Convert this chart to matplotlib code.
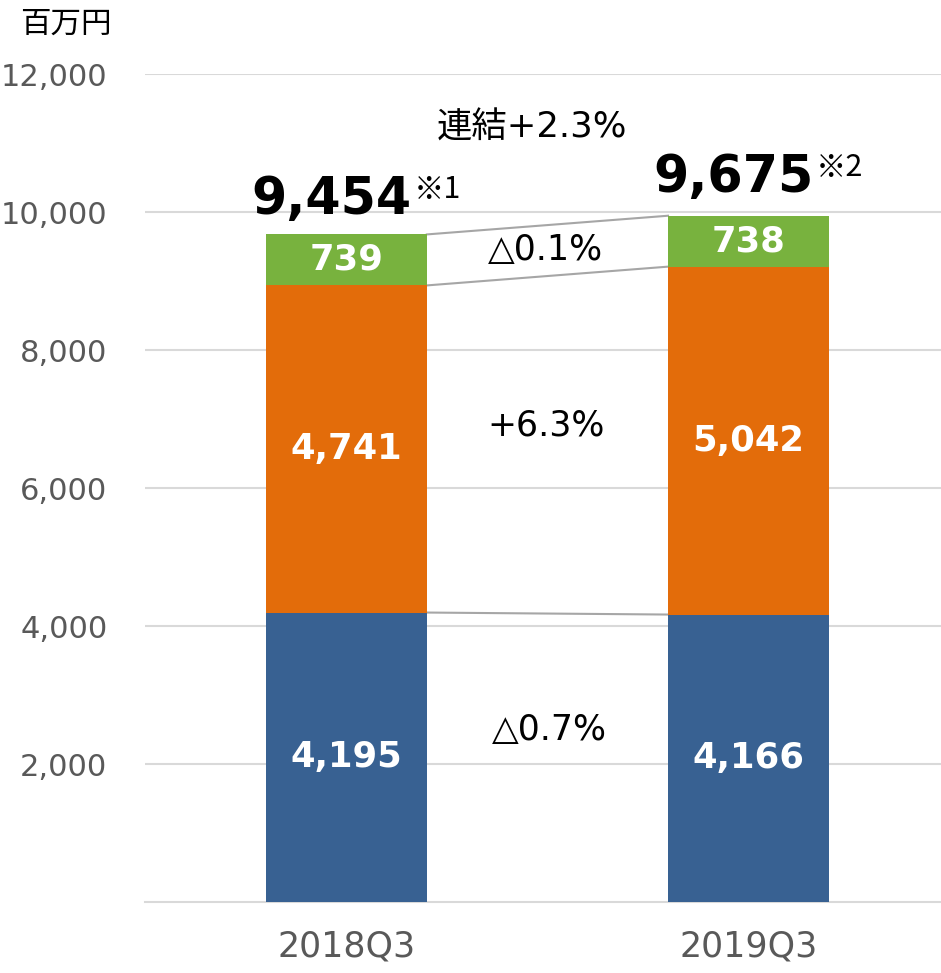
import matplotlib
matplotlib.use("Agg")
import matplotlib.pyplot as plt
import numpy as np

plt.rcParams['font.family'] = ['DejaVu Sans', 'Noto Sans CJK JP']

categories = ['2018Q3', '2019Q3']
seg_blue = [4195, 4166]
seg_orange = [4741, 5042]
seg_green = [739, 738]
totals = ['9,454', '9,675']
notes = ['※1', '※2']
changes = ['△0.7%', '+6.3%', '△0.1%']
overall = '連結+2.3%'

c_blue = '#386192'
c_orange = '#E36C0A'
c_green = '#78B23E'

fig = plt.figure(figsize=(9.41, 9.73), dpi=100)
ax = fig.add_axes([145 / 941, 71 / 973, 796 / 941, 828 / 973])

x = np.arange(len(categories))
w = 0.4
b1 = np.array(seg_blue)
b2 = b1 + np.array(seg_orange)
b3 = b2 + np.array(seg_green)

ax.bar(x, seg_blue, w, color=c_blue, zorder=3)
ax.bar(x, seg_orange, w, bottom=b1, color=c_orange, zorder=3)
ax.bar(x, seg_green, w, bottom=b2, color=c_green, zorder=3)

for i in range(len(x)):
    ax.text(x[i], seg_blue[i] / 2, f'{seg_blue[i]:,}', ha='center', va='center',
            color='white', fontsize=25.5, fontweight='bold', zorder=4)
    ax.text(x[i], b1[i] + seg_orange[i] / 2, f'{seg_orange[i]:,}', ha='center', va='center',
            color='white', fontsize=25.5, fontweight='bold', zorder=4)
    ax.text(x[i], b2[i] + seg_green[i] / 2, f'{seg_green[i]:,}', ha='center', va='center',
            color='white', fontsize=25.5, fontweight='bold', zorder=4)

# connectors between bars
for tops in (b1, b2, b3):
    ax.plot([x[0] + w / 2, x[1] - w / 2], [tops[0], tops[1]], color='#a6a6a6', lw=1.5, zorder=2)

# totals
tot_y = [9971, 10290]
for i in range(len(x)):
    ax.text(x[i] + 0.163, tot_y[i], totals[i], ha='right', va='baseline',
            fontsize=36.5, fontweight='bold', color='black')
    ax.text(x[i] + 0.168, tot_y[i] + 230, notes[i], ha='left', va='baseline',
            fontsize=22, color='black', family=['Noto Sans CJK JP', 'DejaVu Sans'])

ax.text(0.505, 2493, changes[0], ha='center', va='center', fontsize=25)
ax.text(0.496, 6913, changes[1], ha='center', va='center', fontsize=25)
ax.text(0.494, 9449, changes[2], ha='center', va='center', fontsize=25)
ax.text(0.461, 11217, overall, ha='center', va='center', fontsize=25.5)

ax.set_xlim(-0.501, 1.479)
ax.set_ylim(0, 12000)
ax.set_yticks(range(2000, 12001, 2000))
ax.set_yticklabels([f'{v:,}' for v in range(2000, 12001, 2000)])
ax.set_xticks(x)
ax.set_xticklabels(categories)
ax.tick_params(axis='y', length=0, pad=27, labelsize=22, labelcolor='#595959')
ax.tick_params(axis='x', length=0, pad=20, labelsize=25, labelcolor='#595959')
ax.grid(axis='y', color='#d9d9d9', lw=1.5, zorder=0)
for s in ['top', 'right', 'left']:
    ax.spines[s].set_visible(False)
ax.spines['bottom'].set_color('#d9d9d9')
ax.spines['bottom'].set_linewidth(1.5)

fig.text(66 / 941, 1 - 24 / 973, '百万円', ha='center', va='center', fontsize=22,
         family=['Noto Sans CJK JP', 'DejaVu Sans'])

fig.savefig('out.png', dpi=100)
